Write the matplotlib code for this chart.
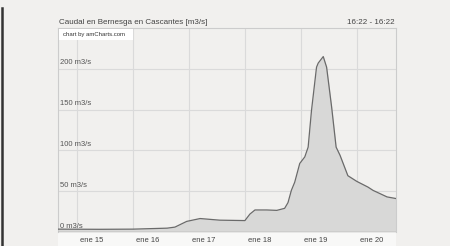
import matplotlib
matplotlib.use("Agg")
import matplotlib.pyplot as plt
from matplotlib.patches import Rectangle
from matplotlib.lines import Line2D

# Data: days since ene 15 00:00, flow in m3/s
days = [-0.34, 0.41, 1.0, 1.61, 1.75, 1.96, 2.2, 2.55, 3.0, 3.09, 3.18, 3.39, 3.57,
        3.71, 3.77, 3.83, 3.89, 3.98, 4.07, 4.13, 4.19, 4.28, 4.31, 4.40, 4.46,
        4.55, 4.63, 4.70, 4.84, 5.0, 5.2, 5.29, 5.54, 5.7]
flow = [3.5, 3.3, 3.5, 4.7, 6, 13, 16.5, 14.5, 14, 22, 27, 27, 26.5,
        29, 36, 51, 61, 84, 92, 104, 149, 202, 207, 215, 202,
        153, 104, 94, 69, 62, 55, 51, 43, 41]
tick_days = [0, 1, 2, 3, 4, 5]
tick_labels = ["ene 15", "ene 16", "ene 17", "ene 18", "ene 19", "ene 20"]
y_ticks = [0, 50, 100, 150, 200]
y_labels = ["0 m3/s", "50 m3/s", "100 m3/s", "150 m3/s", "200 m3/s"]
title = "Caudal en Bernesga en Cascantes [m3/s]"
time_range = "16:22 - 16:22"

plt.rcParams['font.family'] = ['Liberation Sans', 'DejaVu Sans']
bg = "#f1f0ee"
fig = plt.figure(figsize=(4.5, 2.46), dpi=100, facecolor=bg)

L, R, B, T = 58/450, 396/450, 1-232/246, 1-28/246
# lighter band under the axis
fig.patches.append(Rectangle((L, 0), R-L, B, transform=fig.transFigure,
                             facecolor="#f8f8f7", edgecolor="none", zorder=-5))
ax = fig.add_axes([L, B, R-L, T-B], facecolor=bg)
ax.set_xlim(-0.34, 5.7)
ax.set_ylim(0, 250)

for d in tick_days:
    ax.axvline(d, color="#dadada", lw=0.8, zorder=1)
for v in y_ticks[1:]:
    ax.axhline(v, color="#dadada", lw=0.8, zorder=1)

ax.fill_between(days, flow, 0, color="#d8d8d7", zorder=2, lw=0)
ax.plot(days, flow, color="#6a6a6a", lw=0.9, zorder=3)
ax.axhline(0, color="#a0a0a0", lw=1.0, zorder=4)

for v, lab in zip(y_ticks, y_labels):
    ax.text(-0.31, v + 3, lab, fontsize=5.5, color="#555555", va="bottom", ha="left", zorder=5)

ax.set_xticks([]); ax.set_yticks([])
for s in ["top", "left", "right"]:
    ax.spines[s].set_color("#cccccc"); ax.spines[s].set_linewidth(0.8)
ax.spines["bottom"].set_visible(False)

for d, lab in zip(tick_days, tick_labels):
    ax.annotate(lab, xy=(d, 0), xycoords="data", xytext=(3, -8),
                textcoords="offset pixels", fontsize=5.5, color="#444444",
                ha="left", va="center", annotation_clip=False, zorder=10)

fig.text(59/450, 1-22/246, title, fontsize=5.8, color="#444444", ha="left", va="center")
fig.text(395/450, 1-22/246, time_range, fontsize=5.8, color="#444444", ha="right", va="center")

fig.patches.append(Rectangle((59/450, 1-40/246), 74/450, 11/246, transform=fig.transFigure,
                             facecolor="white", edgecolor="none", zorder=6))
fig.text(63/450, 1-34.5/246, "chart by amCharts.com", fontsize=4.3, color="#333333",
         ha="left", va="center", zorder=7)

fig.lines.append(Line2D([1.5/450, 1.5/450], [0, 1-8/246], transform=fig.transFigure,
                        color="#333333", lw=1.8))

fig.savefig("out.png", dpi=100, facecolor=bg)
